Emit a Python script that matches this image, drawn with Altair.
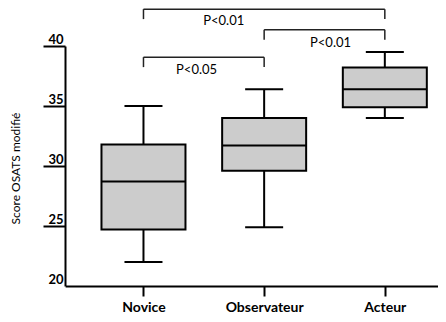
import altair as alt
import pandas as pd

categories = ["Novice", "Observateur", "Acteur"]
positions = [1, 2, 3]
mins = [22.0, 24.9, 34.0]
q1s = [24.7, 29.6, 34.9]
medians = [28.7, 31.7, 36.4]
q3s = [31.8, 34.0, 38.2]
maxs = [35.0, 36.4, 39.5]

# significance brackets
br_x1 = [1, 2, 1]
br_x2 = [3, 3, 2]
br_y = [43.07, 41.35, 39.07]
br_labels = ["P<0.01", "P<0.01", "P<0.05"]
lab_x = [1.665, 2.55, 1.44]
lab_y = [42.05, 40.25, 38.0]
drop = 0.83

FONT = "Lato"

df = pd.DataFrame({"cat": categories, "x": positions, "lo": mins, "q1": q1s,
                   "med": medians, "q3": q3s, "hi": maxs})

W = 373
H = 240
PAD_T = 38
PAD_B = 28
step = 124.0
xmin = 1 - (140.5 - 65) / step
xmax = xmin + W / step

xscale = alt.Scale(domain=[xmin, xmax], nice=False, zero=False)
yscale = alt.Scale(domain=[20, 40], nice=False, zero=False)

labelexpr = "datum.value == 1 ? 'Novice' : datum.value == 2 ? 'Observateur' : datum.value == 3 ? 'Acteur' : ''"

xaxis = alt.Axis(values=positions, labelExpr=labelexpr, grid=False, title=None,
                 tickSize=10, tickWidth=2, tickColor="black", domainColor="black",
                 domainWidth=2, labelFont=FONT, labelFontSize=14, labelFontWeight="bold",
                 labelColor="black", labelPadding=4, labelBaseline="top")
yaxis = alt.Axis(values=[20, 25, 30, 35, 40], grid=False, title="Score OSATS modifié",
                 tickSize=22, tickWidth=2, domainColor="black",
                 tickColor={"condition": {"test": "datum.value === 20", "value": "white"}, "value": "black"},
                 domainWidth=2, labelFont=FONT, labelFontSize=13, labelFontWeight="bold",
                 labelColor="black", labelPadding=-20, labelAlign="right",
                 labelBaseline="alphabetic", labelOffset=-3,
                 titleFont=FONT, titleFontSize=12, titleFontWeight="normal", titleColor="black",
                 titleX=-50, titleY=122, titleAngle=270, titleAlign="center",
                 titleBaseline="middle")

base = alt.Chart(df)
X = alt.X("x:Q", scale=xscale, axis=xaxis)

w_low = base.mark_rule(color="black", strokeWidth=2).encode(
    x=X, y=alt.Y("lo:Q", scale=yscale, axis=yaxis), y2="q1:Q")
w_high = base.mark_rule(color="black", strokeWidth=2).encode(
    x="x:Q", y="q3:Q", y2="hi:Q")
cap_lo = base.mark_tick(orient="horizontal", size=38, thickness=2, color="black", opacity=1).encode(
    x="x:Q", y="lo:Q")
cap_hi = base.mark_tick(orient="horizontal", size=38, thickness=2, color="black", opacity=1).encode(
    x="x:Q", y="hi:Q")
box = base.mark_bar(size=84, fill="#cccccc", stroke="black", strokeWidth=2, opacity=1).encode(
    x="x:Q", y="q1:Q", y2="q3:Q")
med = base.mark_tick(orient="horizontal", size=84, thickness=2, color="black", opacity=1).encode(
    x="x:Q", y="med:Q")

bdf = pd.DataFrame({"x1": br_x1, "x2": br_x2, "y": br_y, "label": br_labels,
                    "lx": lab_x, "ly": lab_y})
bdf["yd"] = bdf["y"] - drop
bb = alt.Chart(bdf)
h_line = bb.mark_rule(color="#222222", strokeWidth=1.5).encode(x="x1:Q", x2="x2:Q", y="y:Q")
v1 = bb.mark_rule(color="#222222", strokeWidth=1.5).encode(x="x1:Q", y="y:Q", y2="yd:Q")
v2 = bb.mark_rule(color="#222222", strokeWidth=1.5).encode(x="x2:Q", y="y:Q", y2="yd:Q")
txt = bb.mark_text(font=FONT, fontSize=13, color="black", align="center",
                   baseline="middle").encode(x="lx:Q", y="ly:Q", text="label:N")

chart = alt.layer(w_low, w_high, cap_lo, cap_hi, box, med, h_line, v1, v2, txt).properties(
    width=W, height=H,
    autosize=alt.AutoSizeParams(type="none"),
    padding={"left": 57, "top": PAD_T, "right": 0, "bottom": PAD_B},
    background="white",
).configure_view(stroke=None, strokeWidth=0)

chart.save("out.html", embed_options={"renderer": "svg", "actions": False})
